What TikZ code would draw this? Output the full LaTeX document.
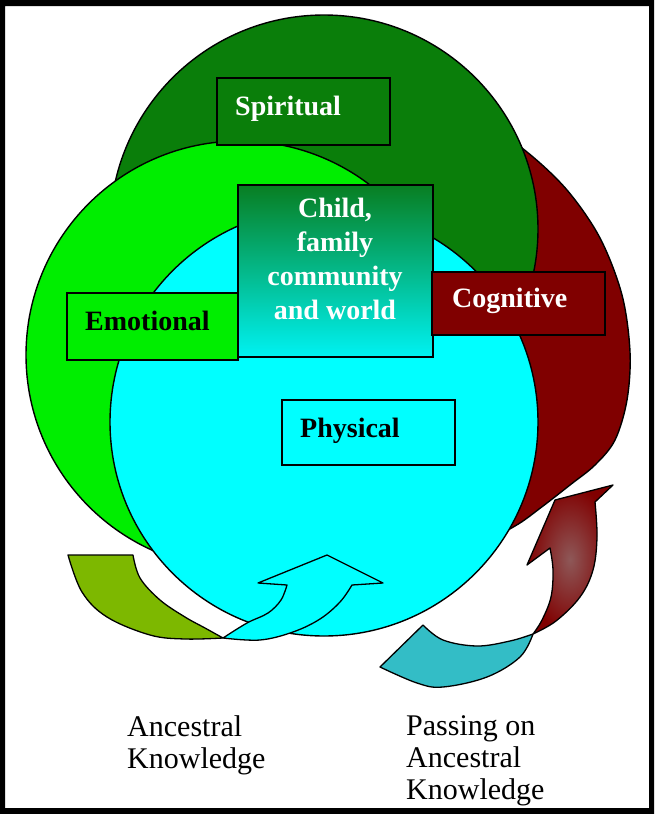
\documentclass[tikz,border=0pt]{standalone}
\usepackage{fontspec}
\setmainfont{Liberation Serif}
\definecolor{cogred}{HTML}{800000}
\definecolor{spgreen}{HTML}{0A7E0A}
\definecolor{emgreen}{HTML}{00EE00}
\definecolor{phcyan}{HTML}{00FFFF}
\definecolor{olivearr}{HTML}{7DB800}
\definecolor{tealarr}{HTML}{33BDC6}
\definecolor{mauve}{HTML}{8E5858}
\begin{document}
\begin{tikzpicture}[x=1pt,y=-1pt,
  circ/.style={draw=black,line width=1.4pt},
  boxs/.style={draw=black,line width=2.6pt,inner sep=0pt,rectangle},
  lbl/.style={font=\fontsize{28}{34}\selectfont\bfseries,inner sep=0pt,anchor=base west},
  foot/.style={font=\fontsize{30}{32}\selectfont,inner sep=0pt,anchor=north west,align=left},
  arr/.style={draw=black,line width=1.3pt,line join=round}]
\useasboundingbox (0,0) rectangle (654,814);
\fill[white] (0,0) rectangle (654,814);
% circles
\path[circ, fill=cogred] plot[smooth cycle, tension=0.55] coordinates {(490,128) (527,152) (567,190) (600,238) (622,295) (630,352) (627,400) (615,440) (595,465) (570,485) (543,506) (515,526) (480,541) (430,530) (400,400) (420,200) (440,120)};
\path[circ, fill=spgreen] (324,229) circle[radius=214pt];
\path[circ, fill=emgreen] (240,355) circle[radius=214pt];
\path[circ, fill=phcyan] (324,422) circle[radius=214pt];
% left arrow
\path[arr, fill=olivearr] (68,555) -- (133,555) -- plot[smooth,tension=0.6] coordinates {(133,555) (140,578) (160,600) (185,617) (205,628) (223,638)} -- plot[smooth,tension=0.6] coordinates {(223,638) (185,639) (150,635) (107,617) (82,592) (68,555)} -- cycle;
\path[arr, fill=phcyan] (223,638) -- plot[smooth,tension=0.6] coordinates {(223,638) (247,623) (268,613) (281,600) (287,585)} -- (258,583) -- (327,555) -- (383,583) -- (352,585) -- plot[smooth,tension=0.6] coordinates {(352,585) (340,602) (320,619) (293,632) (260,640) (223,638)} -- cycle;
% right arrow
\path[arr, fill=tealarr] (380,667) -- (423,625) -- plot[smooth,tension=0.6] coordinates {(423,625) (443,640) (477,646) (510,641) (533,634)} -- plot[smooth,tension=0.6] coordinates {(533,634) (520,657) (487,677) (443,687) (417,683) (380,667)} -- cycle;
\path[arr, inner color=mauve, outer color=cogred] (533,634) -- plot[smooth,tension=0.6] coordinates {(533,634) (542,620) (551,597) (553,570) (550,548)} -- (527,565) -- (555,500) -- (613,485) -- (595,502) -- plot[smooth,tension=0.6] coordinates {(595,502) (597,537) (593,570) (580,597) (556,621) (533,634)} -- cycle;
% boxes
\node[boxs, fill=spgreen, minimum width=173pt, minimum height=67pt] (spbox) at (303.5,111.5) {};
\node[boxs, fill=emgreen, minimum width=171pt, minimum height=67pt] (embox) at (152.5,326.5) {};
\node[boxs, top color=spgreen!80!teal, middle color=teal!40!phcyan, bottom color=phcyan!95!black, minimum width=195pt, minimum height=172pt] (cbox) at (335.5,271) {};
\node[boxs, fill=cogred, minimum width=173pt, minimum height=63pt] (cgbox) at (518.5,303.5) {};
\node[boxs, fill=phcyan, minimum width=173pt, minimum height=65pt] (phbox) at (368.5,432.5) {};
% labels
\node[lbl, text=white] (sptext) at (235,115) {Spiritual};
\node[lbl] (emtext) at (85,330) {Emotional};
\node[lbl, text=white] (cgtext) at (452,307) {Cognitive};
\node[lbl] (phtext) at (300,437) {Physical};
\node[font=\fontsize{28}{34}\selectfont\bfseries, text=white, align=center, inner sep=0pt] (ctext) at (335,259) {Child,\\family\\community\\and world};
\node[foot] (anc) at (127,715) {Ancestral\\Knowledge};
\node[foot] (pass) at (406,715) {Passing on\\Ancestral\\Knowledge};
% frame
\fill[black, even odd rule] (0,0) rectangle (654,814) (5,6) rectangle (649,808);
\end{tikzpicture}
\end{document}
